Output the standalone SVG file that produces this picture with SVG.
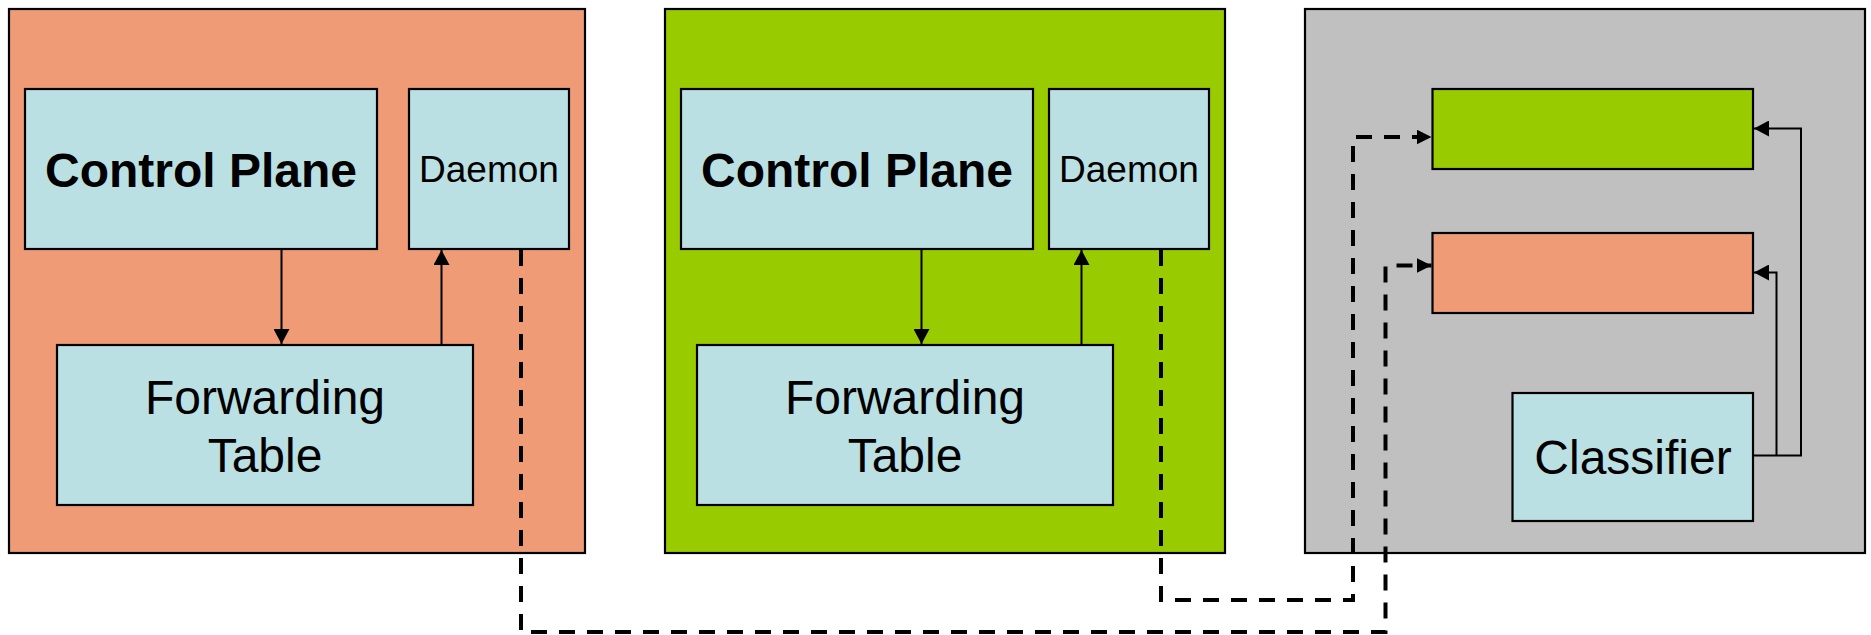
<svg xmlns="http://www.w3.org/2000/svg" width="1871" height="635" viewBox="0 0 1871 635">
<style>
.outer{stroke:#000;stroke-width:2.2}
.box{fill:#BBE0E3;stroke:#000;stroke-width:2.2}
.t{font-family:"Liberation Sans",Arial,sans-serif;fill:#000;text-anchor:middle}
.solid{fill:none;stroke:#000;stroke-width:2}
.dash{fill:none;stroke:#000;stroke-width:4;stroke-dasharray:16 12}
</style>
<defs>
<marker id="ahs" viewBox="0 0 10 10" refX="10" refY="5" markerWidth="15" markerHeight="16" markerUnits="userSpaceOnUse" orient="auto" preserveAspectRatio="none"><path d="M0,0 L10,5 L0,10 z" fill="#000"/></marker>
<marker id="ahd" viewBox="0 0 10 10" refX="10" refY="5" markerWidth="15" markerHeight="15" markerUnits="userSpaceOnUse" orient="auto" preserveAspectRatio="none"><path d="M0,0 L10,5 L0,10 z" fill="#000"/></marker>
</defs>

<g id="router-orange">
<rect class="outer" x="9" y="9" width="576" height="544" fill="#EF9B75"/>
</g>
<g id="router-green">
<rect class="outer" x="665" y="9" width="560" height="544" fill="#99CC00"/>
</g>
<g id="classifier-host">
<rect class="outer" x="1305" y="9" width="560" height="544" fill="#C0C0C0"/>
</g>

<g id="cp1"><rect class="box" x="25" y="89" width="352" height="160"/>
<text class="t" x="201" y="187" font-size="48" font-weight="bold">Control Plane</text></g>
<g id="daemon1"><rect class="box" x="409" y="89" width="160" height="160"/>
<text class="t" x="489" y="181.5" font-size="37">Daemon</text></g>
<g id="ft1"><rect class="box" x="57" y="345" width="416" height="160"/>
<text class="t" x="265" y="414" font-size="48">Forwarding</text>
<text class="t" x="265" y="471.5" font-size="48">Table</text></g>

<g id="cp2"><rect class="box" x="681" y="89" width="352" height="160"/>
<text class="t" x="857" y="187" font-size="48" font-weight="bold">Control Plane</text></g>
<g id="daemon2"><rect class="box" x="1049" y="89" width="160" height="160"/>
<text class="t" x="1129" y="181.5" font-size="37">Daemon</text></g>
<g id="ft2"><rect class="box" x="697" y="345" width="416" height="160"/>
<text class="t" x="905" y="414" font-size="48">Forwarding</text>
<text class="t" x="905" y="471.5" font-size="48">Table</text></g>

<g id="queue-green"><rect x="1432.5" y="89" width="320.5" height="80" fill="#99CC00" stroke="#000" stroke-width="2.2"/></g>
<g id="queue-orange"><rect x="1432.5" y="233" width="320.5" height="80" fill="#EF9B75" stroke="#000" stroke-width="2.2"/></g>
<g id="classifier"><rect class="box" x="1512.5" y="393" width="240.5" height="128"/>
<text class="t" x="1633" y="474" font-size="48">Classifier</text></g>

<g id="connectors">
<line class="solid" x1="281.5" y1="249" x2="281.5" y2="344" marker-end="url(#ahs)"/>
<line class="solid" x1="441.5" y1="345" x2="441.5" y2="250" marker-end="url(#ahs)"/>
<line class="solid" x1="921.5" y1="249" x2="921.5" y2="344" marker-end="url(#ahs)"/>
<line class="solid" x1="1081.5" y1="345" x2="1081.5" y2="250" marker-end="url(#ahs)"/>
<polyline class="solid" points="1753,455.5 1801,455.5 1801,128.5 1754,128.5" marker-end="url(#ahs)"/>
<polyline class="solid" points="1776.5,455.5 1776.5,272.5 1754,272.5" marker-end="url(#ahs)"/>
<polyline class="dash" points="1161,250 1161,600 1353,600 1353,137 1431.5,137" marker-end="url(#ahd)"/>
<polyline class="dash" points="521,250 521,632 1385.5,632 1385.5,265.5 1431.5,265.5" marker-end="url(#ahd)"/>
</g>
</svg>
